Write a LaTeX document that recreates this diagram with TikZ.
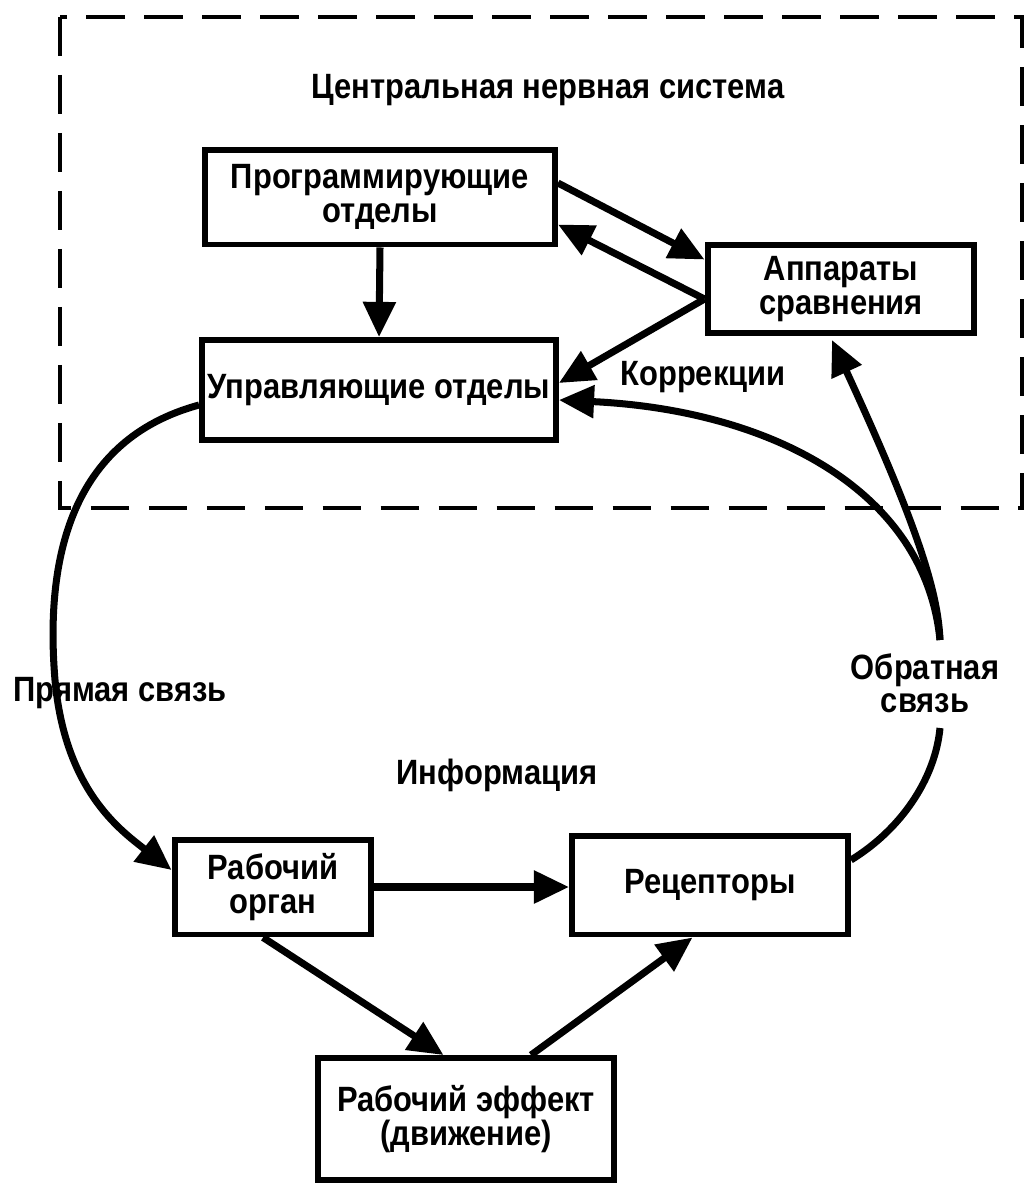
\documentclass[tikz,border=0pt]{standalone}
\usepackage{fontspec}
\setmainfont{Liberation Sans}[FakeStretch=0.88]
\usetikzlibrary{arrows.meta}

\begin{document}
\begin{tikzpicture}[x=0.02cm,y=-0.02cm,
  box/.style={draw,line width=3.4pt,align=center,font=\bfseries\fontsize{20}{19}\selectfont},
  lab/.style={align=center,font=\bfseries\fontsize{20}{19}\selectfont},
  arr/.style={line width=4pt,-{Triangle[length=20pt,width=18pt]}},
  wire/.style={line width=4pt}]
\useasboundingbox (0,0) rectangle (1028,1188);
\draw[line width=2.3pt,dash pattern=on 22pt off 11pt] (60,17) rectangle (1022,508); % CNS frame
\node[lab] (cns) at (548,90) {Центральная нервная система};
\node[box,minimum width=7cm,minimum height=1.9cm] (prog) at (380,197) {Программирующие\\отделы};
\node[box,minimum width=5.34cm,minimum height=1.76cm] (app) at (841,289) {Аппараты\\сравнения};
\node[box,minimum width=7.04cm,minimum height=2cm] (upr) at (379,390) {Управляющие отделы};
\node[box,minimum width=3.94cm,minimum height=1.9cm] (rab) at (273,887) {Рабочий\\орган};
\node[box,minimum width=5.52cm,minimum height=1.98cm] (rec) at (710,885) {Рецепторы};
\node[box,minimum width=5.92cm,minimum height=2.44cm] (eff) at (466,1119) {Рабочий эффект\\(движение)};
\node[lab] (korr) at (703,377) {Коррекции};
\node[lab] (info) at (497,775) {Информация};
\node[lab] (pr) at (120,693) {Прямая связь};
\node[lab] (obr) at (925,683) {Обратная\\связь};
\coordinate (fb) at (940,640);
% inside the CNS
\draw[arr] (prog.south) -- (upr.north);
\draw[arr] ([yshift=0.28cm]prog.east) -- ([yshift=-0.35cm]app.north west);
\draw[arr] ([yshift=-0.2cm]app.west) -- ([yshift=-0.55cm]prog.east);
\draw[arr] ([yshift=-0.2cm]app.west) -- ([yshift=0.14cm]upr.east);
% direct link
\draw[arr] ([yshift=-0.3cm]upr.west) .. controls (70,440) and (45,560) .. (55,680)
  .. controls (65,790) and (120,830) .. ([yshift=0.34cm]rab.west);
\draw[arr] (rab.east) -- (rab.east -| rec.west);
\draw[arr] ([xshift=-0.2cm]rab.south) -- ([xshift=-0.45cm]eff.north);
\draw[arr] ([xshift=1.3cm]eff.north) -- ([xshift=-0.35cm]rec.south);
% feedback
\draw[wire] ([yshift=0.5cm]rec.east) .. controls (900,830) and (935,780) .. (940,728);
\draw[arr] (fb) .. controls (938,590) and (915,520) .. (832,340);
\draw[arr] (fb) .. controls (925,490) and (770,410) .. ([yshift=-0.2cm]upr.east);
\end{tikzpicture}
\end{document}
